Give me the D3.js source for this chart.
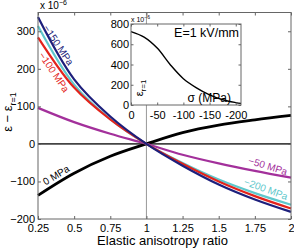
<!DOCTYPE html>
<html>
<head>
<meta charset="utf-8">
<script src="https://cdn.jsdelivr.net/npm/d3@7"></script>
<style>
  body { margin: 0; background: #fff; }
  svg { display: block; font-family: "Liberation Sans", Arial, Helvetica, sans-serif; }
</style>
</head>
<body>
<div id="chart"></div>
<script>
/* --- data (units of 1e-6) ------------------------------------------------ */
const ratio   = [0.25, 0.5, 0.75, 1, 1.25, 1.5, 1.75, 2];
const s0      = [-137, -78, -33, 0, 30, 50, 64, 76];
const s50     = [96, 58, 27, 0, -29, -52, -72, -90];
const s100    = [284, 150, 65, 0, -53, -100, -139, -172];
const s150    = [338, 172, 73, 0, -58, -108, -148, -181];
const s200    = [314, 158, 66, 0, -51, -95, -131, -162];

const xTicks  = [0.25, 0.5, 0.75, 1, 1.25, 1.5, 1.75, 2];
const yTicks  = [-200, -100, 0, 100, 200, 300];

// inset: strain at r=1 vs stress, E = 1 kV/mm
const sigma   = [0, -25, -50, -75, -100, -125, -150, -175, -200, -210];
const epsR1   = [725, 670, 562, 398, 260, 170, 100, 52, 24, 16];
const insetXTicks = [0, -50, -100, -150, -200];
const insetYTicks = [0, 200, 400, 600, 800];

// curve labels: text, ratio, value, angle
const labText  = ["\u2212150 MPa", "\u2212100 MPa", "0 MPa", "\u221250 MPa", "\u2212200 MPa"];
const labR     = [0.392, 0.361, 0.375, 1.84, 1.827];
const labV     = [263, 191, -83, -59, -120];
const labAngle = [56, 56, -31, 17, 20];

/* --- layout -------------------------------------------------------------- */
const W = 294, H = 248;
const plot  = { l: 38, r: 291, t: 12.5, b: 219 };
const inset = { l: 131, r: 241, t: 24, b: 105 };

const svg = d3.select("#chart").append("svg")
  .attr("width", W).attr("height", H);

const x = d3.scaleLinear().domain([0.25, 2]).range([plot.l, plot.r]);
const y = d3.scaleLinear().domain([-200, 350]).range([plot.b, plot.t]);

const series = [
  { vals: s0,   color: "#000000", w: 2.8 },
  { vals: s50,  color: "#a3309b", w: 2.2 },
  { vals: s200, color: "#5fc8cc", w: 2.2 },
  { vals: s100, color: "#e3231b", w: 2.2 },
  { vals: s150, color: "#1d1f7c", w: 2.2 }
];
const labColor = ["#1d1f7c", "#e3231b", "#000000", "#a3309b", "#5fc8cc"];

/* --- reference lines ----------------------------------------------------- */
svg.append("line")
  .attr("x1", x(1)).attr("x2", x(1)).attr("y1", plot.t).attr("y2", plot.b)
  .attr("stroke", "#999").attr("stroke-width", 1);
svg.append("line")
  .attr("x1", plot.l).attr("x2", plot.r).attr("y1", y(0)).attr("y2", y(0))
  .attr("stroke", "#444").attr("stroke-width", 1.6);

/* --- curves -------------------------------------------------------------- */
const line = d3.line()
  .x((d, i) => x(ratio[i]))
  .y(d => y(d))
  .curve(d3.curveCatmullRom);

svg.selectAll("path.curve")
  .data(series)
  .join("path")
    .attr("class", "curve")
    .attr("d", d => line(d.vals))
    .attr("fill", "none")
    .attr("stroke", d => d.color)
    .attr("stroke-width", d => d.w);

/* --- curve labels -------------------------------------------------------- */
labText.forEach((t, i) => {
  svg.append("text")
    .attr("transform", `translate(${x(labR[i])},${y(labV[i])}) rotate(${labAngle[i]})`)
    .attr("text-anchor", "middle")
    .attr("dy", "0.35em")
    .attr("fill", labColor[i])
    .style("font-size", "10px")
    .text(t);
});

/* --- axes ---------------------------------------------------------------- */
const fmt = d3.format("~g");
const styleAxis = g => {
  g.select(".domain").remove();
  g.selectAll(".tick line").attr("stroke", "#666");
  g.selectAll("text").attr("fill", "#000").style("font-size", "11px").style("font-family", null);
};

svg.append("g").attr("transform", `translate(0,${plot.b})`)
  .call(d3.axisBottom(x).tickValues(xTicks).tickSize(-3).tickPadding(5).tickFormat(fmt))
  .call(styleAxis);
svg.append("g").attr("transform", `translate(0,${plot.t})`)
  .call(d3.axisTop(x).tickValues(xTicks).tickSize(-3).tickFormat(""))
  .call(styleAxis);
svg.append("g").attr("transform", `translate(${plot.l},0)`)
  .call(d3.axisLeft(y).tickValues(yTicks).tickSize(-3).tickPadding(3).tickFormat(fmt))
  .call(styleAxis);
svg.append("g").attr("transform", `translate(${plot.r},0)`)
  .call(d3.axisRight(y).tickValues(yTicks).tickSize(-3).tickFormat(""))
  .call(styleAxis);

svg.append("rect")
  .attr("x", plot.l).attr("y", plot.t)
  .attr("width", plot.r - plot.l).attr("height", plot.b - plot.t)
  .attr("fill", "none").attr("stroke", "#666").attr("stroke-width", 1);

// exponent
const ex = svg.append("text").attr("x", 40).attr("y", 8.5).style("font-size", "10px");
ex.append("tspan").text("x 10");
ex.append("tspan").attr("dy", -4).style("font-size", "7px").text("\u22126");

// axis titles
svg.append("text")
  .attr("x", (plot.l + plot.r) / 2 - 2).attr("y", 245)
  .attr("text-anchor", "middle")
  .style("font-size", "13px")
  .text("Elastic anisotropy ratio");

const yl = svg.append("text")
  .attr("transform", `translate(12,112) rotate(-90)`)
  .attr("text-anchor", "middle")
  .style("font-size", "13px");
yl.append("tspan").text("\u03b5 \u2212 \u03b5");
yl.append("tspan").attr("dy", 4).style("font-size", "9px").text("r=1");

/* --- inset --------------------------------------------------------------- */
const xi = d3.scaleLinear().domain([0, -210]).range([inset.l, inset.r]);
const yi = d3.scaleLinear().domain([0, 800]).range([inset.b, inset.t]);

svg.append("rect")
  .attr("x", inset.l).attr("y", inset.t)
  .attr("width", inset.r - inset.l).attr("height", inset.b - inset.t)
  .attr("fill", "#fff");

svg.append("path")
  .datum(epsR1)
  .attr("d", d3.line().x((d, i) => xi(sigma[i])).y(d => yi(d)).curve(d3.curveCatmullRom))
  .attr("fill", "none").attr("stroke", "#000").attr("stroke-width", 1.4);

svg.append("g").attr("transform", `translate(0,${inset.b})`)
  .call(d3.axisBottom(xi).tickValues(insetXTicks).tickSize(-2.5).tickPadding(6).tickFormat(d => d === 0 ? "0" : "-" + Math.abs(d)))
  .call(styleAxis);
svg.append("g").attr("transform", `translate(0,${inset.t})`)
  .call(d3.axisTop(xi).tickValues(insetXTicks).tickSize(-2.5).tickFormat(""))
  .call(styleAxis);
svg.append("g").attr("transform", `translate(${inset.l},0)`)
  .call(d3.axisLeft(yi).tickValues(insetYTicks).tickSize(-2.5).tickPadding(2).tickFormat(fmt))
  .call(styleAxis);
svg.append("g").attr("transform", `translate(${inset.r},0)`)
  .call(d3.axisRight(yi).tickValues(insetYTicks).tickSize(-2.5).tickFormat(""))
  .call(styleAxis);

svg.append("rect")
  .attr("x", inset.l).attr("y", inset.t)
  .attr("width", inset.r - inset.l).attr("height", inset.b - inset.t)
  .attr("fill", "none").attr("stroke", "#666").attr("stroke-width", 1);

const exi = svg.append("text").attr("x", 131).attr("y", 21.5).style("font-size", "7px");
exi.append("tspan").text("x 10");
exi.append("tspan").attr("dy", -3).style("font-size", "5px").text("\u22126");

svg.append("text")
  .attr("x", 239).attr("y", 37)
  .attr("text-anchor", "end")
  .style("font-size", "12.5px")
  .text("E=1 kV/mm");

svg.append("text")
  .attr("x", 231).attr("y", 102)
  .attr("text-anchor", "end")
  .style("font-size", "12px")
  .text("\u03c3 (MPa)");

const yli = svg.append("text")
  .attr("transform", `translate(143,88) rotate(-90)`)
  .attr("text-anchor", "middle")
  .style("font-size", "11px");
yli.append("tspan").text("\u03b5");
yli.append("tspan").attr("dy", 3).style("font-size", "8px").text("r=1");
</script>
</body>
</html>
